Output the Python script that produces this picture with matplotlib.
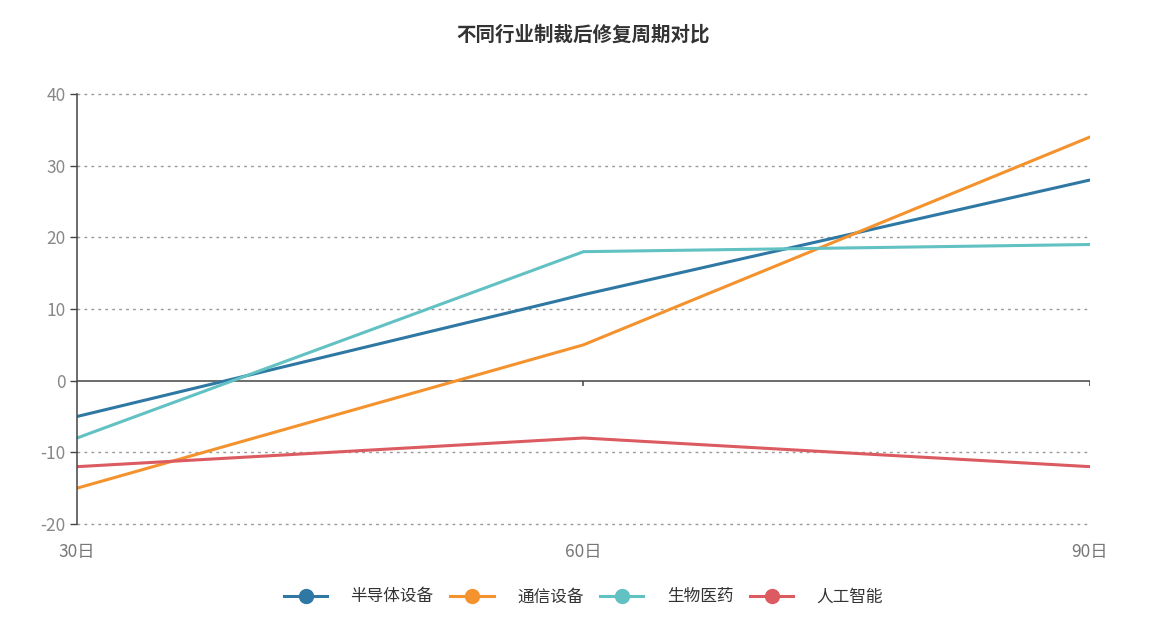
import matplotlib
matplotlib.use("Agg")
import matplotlib.pyplot as plt

plt.rcParams['font.family'] = ['Noto Sans CJK SC', 'DejaVu Sans']
plt.rcParams['axes.unicode_minus'] = False

## data
periods = ['30日', '60日', '90日']
semi = [-5, 12, 28]
telecom = [-15, 5, 34]
biomed = [-8, 18, 19]
ai = [-12, -8, -12]
series_names = ['半导体设备', '通信设备', '生物医药', '人工智能']
colors = ['#2e78a3', '#f4922e', '#62c1c3', '#dc5b61']
yticks = [-20, -10, 0, 10, 20, 30, 40]

fig = plt.figure(figsize=(11.67, 6.25), dpi=100)
ax = fig.add_axes([0.066, 0.1616, 0.868, 0.688])

x = list(range(len(periods)))
for vals, name, c in zip([semi, telecom, biomed, ai], series_names, colors):
    ax.plot(x, vals, color=c, lw=2.2, label=name,
            solid_capstyle='round', zorder=3)

ax.set_xlim(0, 2)
ax.set_ylim(-20, 40)
ax.set_yticks(yticks)
for v in yticks:
    if v != 0:
        ax.axhline(v, color='#999999', lw=1, ls=(0, (2, 3)), zorder=1, clip_on=False)
ax.axhline(0, color='#444444', lw=1.1, zorder=2)
ax.vlines([1, 2], -0.8, 0, color='#444444', lw=1.1, zorder=2)

ax.set_xticks(x)
ax.set_xticklabels(periods)
ax.tick_params(axis='x', length=0, pad=14, labelsize=12.5, labelcolor='#777777')
ax.tick_params(axis='y', length=5, width=1, color='#444444', labelsize=12.5,
               labelcolor='#888888', pad=3)
for s in ['top', 'right', 'bottom']:
    ax.spines[s].set_visible(False)
ax.spines['left'].set_color('#444444')
ax.spines['left'].set_linewidth(1.1)
ax.spines['left'].set_zorder(4)

fig.suptitle('不同行业制裁后修复周期对比', fontsize=14, fontweight='bold',
             color='#333333', y=0.96)

handles = [plt.Line2D([0], [0], color=c, lw=2.2, marker='o', markersize=10)
           for c in colors]
fig.legend(handles, series_names, loc='center', bbox_to_anchor=(0.5, 0.045),
           ncol=4, frameon=False, fontsize=12, handlelength=2.6,
           columnspacing=1.0, handletextpad=1.4, labelcolor='#333333')

fig.savefig('out.png', dpi=100)
